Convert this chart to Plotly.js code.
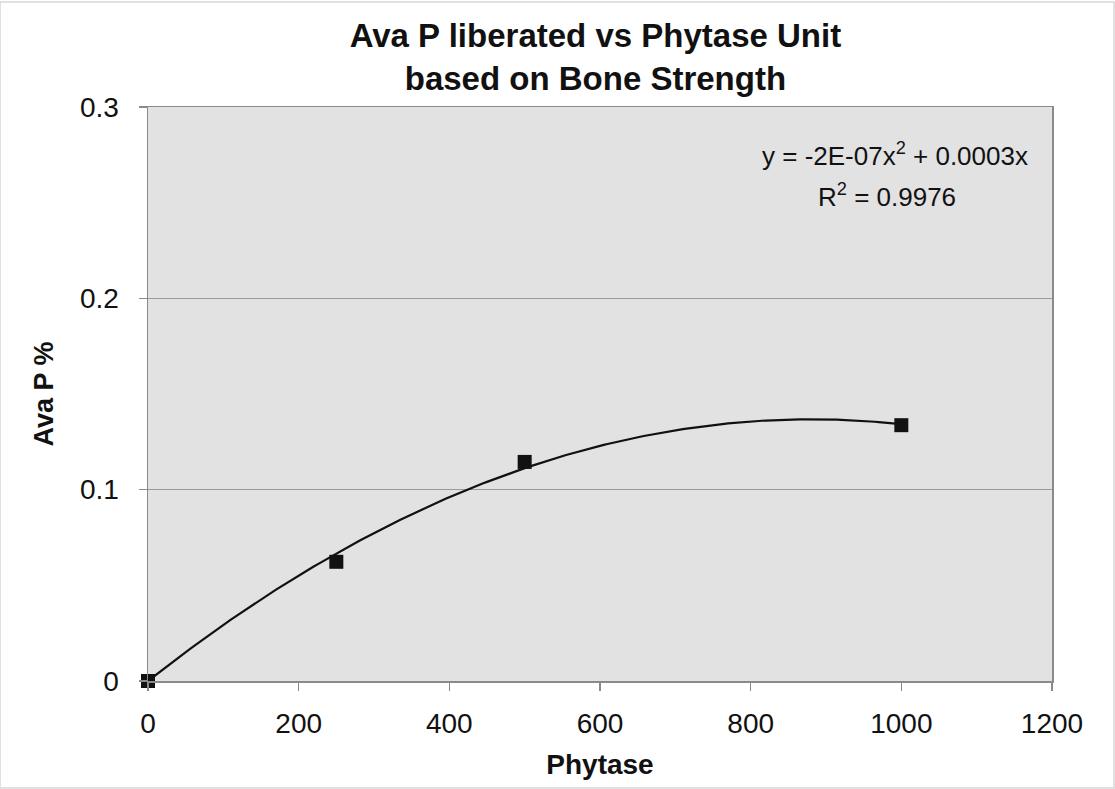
<!DOCTYPE html>
<html>
<head>
<meta charset="utf-8">
<script src="https://cdn.plot.ly/plotly-3.0.1.min.js"></script>
<style>
html,body{margin:0;padding:0;background:#fff;}
#chart{width:1115px;height:789px;}
</style>
</head>
<body>
<div id="chart"></div>
<script>
// Data
const phytase = [0, 250, 500, 1000];
const avaP = [0, 0.0623, 0.1145, 0.1337];
const xTicks = [0, 200, 400, 600, 800, 1000, 1200];
const yTicks = [0, 0.1, 0.2, 0.3];
const equationText = 'y = -2E-07x<sup>2</sup> + 0.0003x';
const r2Text = 'R<sup>2</sup> = 0.9976';

// Polynomial (order 2, intercept 0) least-squares trendline from the data
function fitQuadNoIntercept(xs, ys) {
  let s4 = 0, s3 = 0, s2 = 0, sx2y = 0, sxy = 0;
  for (let i = 0; i < xs.length; i++) {
    const x = xs[i], y = ys[i];
    s4 += x ** 4; s3 += x ** 3; s2 += x ** 2; sx2y += x * x * y; sxy += x * y;
  }
  const det = s4 * s2 - s3 * s3;
  const a = (sx2y * s2 - s3 * sxy) / det;
  const b = (s4 * sxy - s3 * sx2y) / det;
  return { a, b };
}
const fit = fitQuadNoIntercept(phytase, avaP);
const xMin = Math.min(...phytase), xMax = Math.max(...phytase);
const trendX = [], trendY = [];
for (let i = 0; i <= 200; i++) {
  const x = xMin + (xMax - xMin) * i / 200;
  trendX.push(x);
  trendY.push(fit.a * x * x + fit.b * x);
}

const font = 'Arial, "Liberation Sans", sans-serif';

const traces = [
  {
    x: trendX, y: trendY, mode: 'lines', type: 'scatter',
    line: { color: '#111', width: 2.2 }, hoverinfo: 'skip', showlegend: false
  },
  {
    x: phytase, y: avaP, mode: 'markers', type: 'scatter',
    marker: { symbol: 'square', size: 14, color: '#111', line: { width: 0 } },
    showlegend: false, cliponaxis: false
  }
];

const layout = {
  width: 1115, height: 789,
  paper_bgcolor: '#ffffff',
  plot_bgcolor: '#e2e2e2',
  margin: { l: 148, r: 63, t: 107, b: 108 },
  title: {
    text: '<b>Ava P liberated vs Phytase Unit<br>based on Bone Strength</b>',
    font: { family: font, size: 33, color: '#111' },
    x: 0.534, xanchor: 'center', yref: 'container', y: 0.94, yanchor: 'top'
  },
  xaxis: {
    range: [0, 1200], tickvals: xTicks, ticktext: xTicks.map(String),
    showgrid: false, zeroline: false,
    showline: true, linecolor: '#8a8a8a', linewidth: 1.5, mirror: true,
    ticks: 'outside', ticklen: 8, tickcolor: '#8a8a8a', tickwidth: 1.2,
    ticklabelstandoff: 9,
    tickfont: { family: font, size: 28, color: '#111' },
    title: { text: '<b>Phytase</b>', font: { family: font, size: 28, color: '#111' }, standoff: 16 }
  },
  yaxis: {
    range: [0, 0.3], tickvals: yTicks, ticktext: ['0', '0.1', '0.2', '0.3'],
    showgrid: true, gridcolor: '#9a9a9a', gridwidth: 1.2, zeroline: false,
    showline: true, linecolor: '#8a8a8a', linewidth: 1.5, mirror: true,
    ticks: 'outside', ticklen: 8, tickcolor: '#8a8a8a', tickwidth: 1.2,
    ticklabelstandoff: 14,
    tickfont: { family: font, size: 28, color: '#111' },
    title: { text: '<b>Ava P %</b>', font: { family: font, size: 27, color: '#111' }, standoff: 18 }
  },
  annotations: [
    {
      xref: 'paper', yref: 'paper', x: 0.976, y: 0.918, xanchor: 'right', yanchor: 'middle',
      text: equationText, showarrow: false,
      font: { family: font, size: 26, color: '#111' }
    },
    {
      xref: 'paper', yref: 'paper', x: 0.896, y: 0.846, xanchor: 'right', yanchor: 'middle',
      text: r2Text, showarrow: false,
      font: { family: font, size: 26, color: '#111' }
    }
  ],
  shapes: [
    {
      type: 'rect', xref: 'paper', yref: 'paper', layer: 'below',
      x0: -148 / 904, x1: 1 + 62 / 904, y0: -107 / 574, y1: 1 + 105 / 574,
      line: { color: '#d8d8d8', width: 1.5 }, fillcolor: 'rgba(0,0,0,0)'
    }
  ]
};

Plotly.newPlot('chart', traces, layout, { displayModeBar: false, staticPlot: true });
</script>
</body>
</html>
